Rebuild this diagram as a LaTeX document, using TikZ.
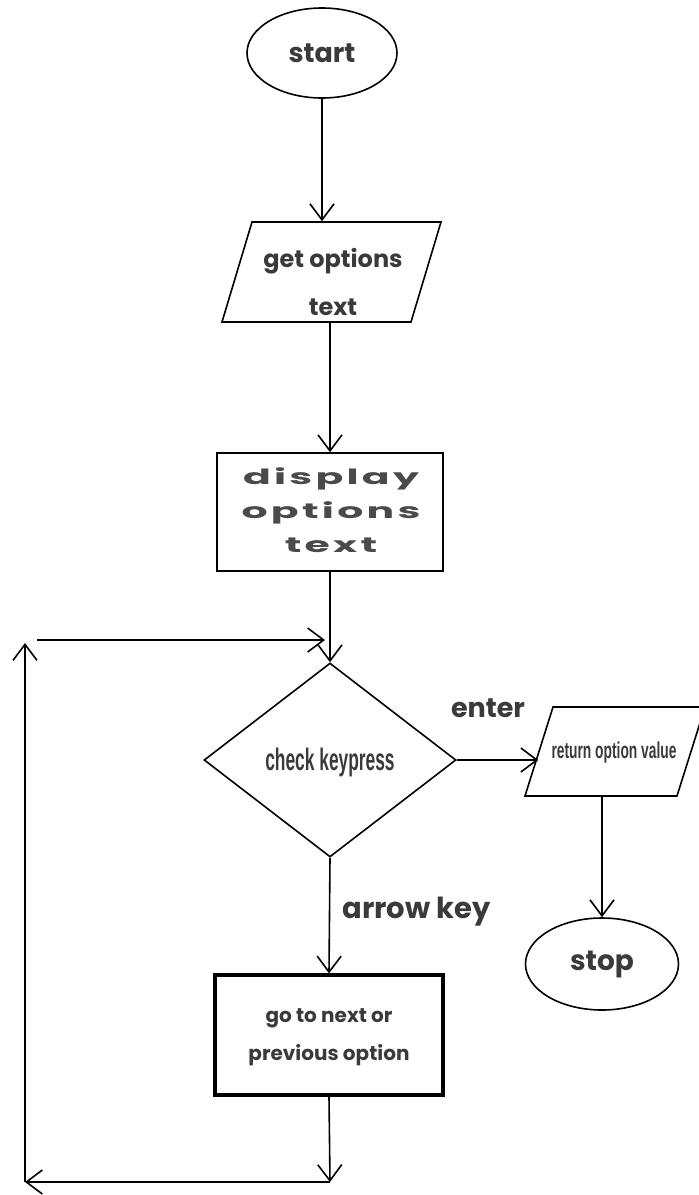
\documentclass[tikz,border=0pt]{standalone}
\usepackage{graphicx}
\usepackage{fontspec}
\setmainfont{Poppins}
\newfontfamily\narrowfont{Liberation Sans}
\usetikzlibrary{shapes.geometric,arrows.meta}
\definecolor{ink}{HTML}{3A3A3A}
\definecolor{inklight}{HTML}{4A4A4A}
\begin{document}
\begin{tikzpicture}[x=0.5pt,y=-0.5pt,
  every node/.style={inner sep=0pt},
  arr/.style={line width=0.8pt,-{Straight Barb[length=8pt,width=12pt]}},
  term/.style={ellipse, draw, line width=0.8pt, text=ink, font=\bfseries},
  io/.style={rectangle, draw, line width=0.8pt, transform shape},
  proc/.style={rectangle, draw, line width=0.8pt},
  dec/.style={diamond, draw, line width=0.8pt},
  lbl/.style={text=ink, font=\bfseries, align=center}]
\useasboundingbox (0,0) rectangle (699,1195);

% shapes
\node[term, minimum width=75pt, minimum height=45pt] (start) at (322,53)
  {\fontsize{13.5}{16}\selectfont start};

\node[io, xslant=0.3, minimum width=94.5pt, minimum height=50pt] (get) at (331.5,272) {};
\node[lbl, font=\bfseries\fontsize{12}{24}\selectfont] (gettxt) at (333,282)
  {get options\\text};

\node[proc, minimum width=113pt, minimum height=59pt] (disp) at (330,512) {};
\node[lbl, text=inklight] (disptxt) at (331,512)
  {\scalebox{1.95}[1]{\fontsize{10.5}{17}\selectfont\addfontfeatures{LetterSpace=8}%
   \begin{tabular}{@{}c@{}}display\\options\\text\end{tabular}}};

\node[dec, minimum width=126pt, minimum height=97pt] (check) at (330,760) {};
\node[lbl] (checktxt) at (330,762)
  {\scalebox{0.56}[1]{\narrowfont\bfseries\fontsize{15.5}{17}\selectfont check keypress}};

\node[io, xslant=0.315, minimum width=76pt, minimum height=44.5pt] (ret) at (615,751.5) {};
\node[lbl] (rettxt) at (614,753)
  {\scalebox{0.6}[1]{\narrowfont\bfseries\fontsize{11.5}{13}\selectfont return option value}};

\node[term, minimum width=76.5pt, minimum height=46pt] (stop) at (602,964)
  {\fontsize{14}{16}\selectfont stop};

\node[proc, line width=1.6pt, minimum width=114pt, minimum height=60pt] (goto) at (329,1035) {};
\node[lbl, font=\bfseries\fontsize{10}{19}\selectfont] (gototxt) at (329,1037)
  {go to next or\\previous option};

% branch labels
\node[lbl, font=\bfseries\fontsize{13.5}{16}\selectfont] (enter) at (488,708) {enter};
\node[lbl, font=\bfseries\fontsize{14.5}{16}\selectfont, anchor=west] (akey) at (342,912) {arrow key};

% loop corners
\coordinate (loopBR) at (330,1182);
\coordinate (loopBL) at (25,1182);
\coordinate (loopTL) at (25,643);
\coordinate (loopIn) at (37,640);
\coordinate (loopEnd) at (325,640);

% connectors
\draw[arr] (start.south) -- (start.south |- get.north);
\draw[arr] (get.south -| disp.north) -- (disp.north);
\draw[arr] (disp.south) -- (check.north);
\draw[arr] (check.east) -- (check.east -| ret.west);
\draw[arr] (ret.south -| stop.north) -- (stop.north);
\draw[arr] (check.south) -- (goto.north);
\draw[arr] (goto.south) -- (loopBR);
\draw[arr] (loopBR) -- (loopBL);
\draw[arr] (loopBL) -- (loopTL);
\draw[arr] (loopIn) -- (loopEnd);
\end{tikzpicture}
\end{document}
